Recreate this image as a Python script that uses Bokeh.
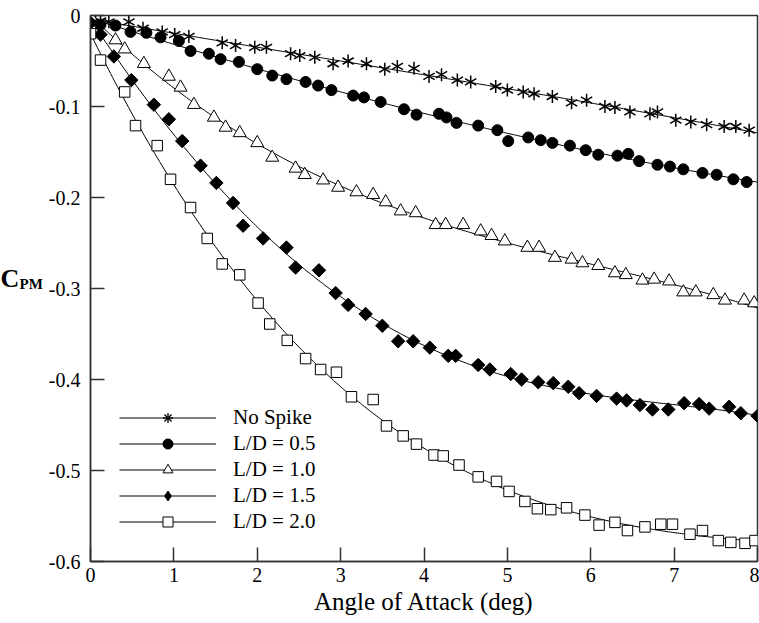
import numpy as np
from bokeh.plotting import figure
from bokeh.layouts import row
from bokeh.models import Legend, LegendItem, FixedTicker, Range1d
from bokeh.core.properties import value
from bokeh.embed import file_html
from bokeh.resources import INLINE

# ---------------- data ----------------
aoa_no_spike = [0.0, 0.12, 0.22, 0.46, 0.63, 0.86, 1.01, 1.18, 1.58, 1.74, 1.97, 2.11, 2.40, 2.51,
                2.69, 2.91, 3.09, 3.31, 3.53, 3.68, 3.88, 4.06, 4.21, 4.40, 4.56, 4.86, 5.00, 5.19,
                5.32, 5.54, 5.77, 5.95, 6.17, 6.29, 6.47, 6.71, 6.80, 7.02, 7.20, 7.39, 7.60, 7.74, 7.90]
cpm_no_spike = [-0.004, -0.006, -0.007, -0.007, -0.014, -0.018, -0.021, -0.023, -0.030, -0.033,
                -0.035, -0.035, -0.042, -0.044, -0.046, -0.053, -0.050, -0.053, -0.059, -0.056,
                -0.058, -0.067, -0.065, -0.071, -0.073, -0.078, -0.082, -0.084, -0.086, -0.089,
                -0.096, -0.093, -0.100, -0.101, -0.106, -0.108, -0.106, -0.115, -0.117, -0.120,
                -0.122, -0.122, -0.126]

aoa_ld05 = [0.0, 0.12, 0.30, 0.48, 0.67, 0.84, 1.06, 1.20, 1.42, 1.56, 1.78, 2.00, 2.18, 2.35, 2.58,
            2.73, 2.89, 3.15, 3.28, 3.48, 3.76, 3.91, 4.18, 4.27, 4.39, 4.65, 4.88, 5.01, 5.25, 5.40,
            5.54, 5.75, 5.94, 6.09, 6.32, 6.45, 6.58, 6.80, 6.95, 7.11, 7.34, 7.51, 7.71, 7.87]
cpm_ld05 = [-0.006, -0.010, -0.011, -0.018, -0.019, -0.024, -0.028, -0.039, -0.042, -0.048, -0.051,
            -0.059, -0.066, -0.070, -0.073, -0.077, -0.082, -0.088, -0.090, -0.095, -0.103, -0.109,
            -0.108, -0.112, -0.118, -0.121, -0.126, -0.138, -0.134, -0.137, -0.140, -0.143, -0.148,
            -0.153, -0.154, -0.152, -0.160, -0.164, -0.166, -0.169, -0.173, -0.175, -0.180, -0.183]

aoa_ld10 = [0.0, 0.30, 0.41, 0.64, 0.94, 1.08, 1.24, 1.48, 1.62, 1.79, 2.00, 2.18, 2.46, 2.57, 2.79,
            2.97, 3.19, 3.39, 3.54, 3.72, 3.90, 4.14, 4.26, 4.47, 4.68, 4.81, 4.97, 5.24, 5.38, 5.57,
            5.77, 5.90, 6.09, 6.29, 6.42, 6.62, 6.76, 6.94, 7.11, 7.26, 7.47, 7.61, 7.84, 7.96]
cpm_ld10 = [-0.001, -0.027, -0.037, -0.053, -0.067, -0.079, -0.098, -0.112, -0.123, -0.129, -0.140,
            -0.156, -0.168, -0.175, -0.181, -0.189, -0.194, -0.197, -0.205, -0.215, -0.217, -0.230,
            -0.230, -0.230, -0.237, -0.242, -0.248, -0.255, -0.255, -0.266, -0.268, -0.272, -0.275,
            -0.283, -0.285, -0.291, -0.290, -0.292, -0.304, -0.304, -0.307, -0.313, -0.313, -0.316]

aoa_ld15 = [0.0, 0.12, 0.28, 0.49, 0.76, 0.94, 1.10, 1.32, 1.51, 1.71, 1.83, 2.07, 2.35, 2.46, 2.74,
            2.94, 3.09, 3.30, 3.50, 3.69, 3.87, 4.07, 4.29, 4.38, 4.65, 4.79, 5.04, 5.17, 5.37, 5.55,
            5.73, 5.86, 6.07, 6.31, 6.43, 6.59, 6.74, 6.93, 7.12, 7.30, 7.42, 7.66, 7.80, 8.00]
cpm_ld15 = [-0.008, -0.021, -0.045, -0.071, -0.098, -0.114, -0.138, -0.165, -0.184, -0.206, -0.231,
            -0.245, -0.255, -0.277, -0.280, -0.305, -0.318, -0.328, -0.341, -0.358, -0.358, -0.365,
            -0.374, -0.374, -0.384, -0.389, -0.394, -0.400, -0.403, -0.404, -0.408, -0.415, -0.418,
            -0.421, -0.423, -0.428, -0.433, -0.433, -0.426, -0.427, -0.432, -0.430, -0.437, -0.440]

aoa_ld20 = [0.0, 0.12, 0.41, 0.54, 0.80, 0.96, 1.20, 1.40, 1.58, 1.79, 2.01, 2.15, 2.36, 2.58, 2.76,
            2.95, 3.13, 3.39, 3.55, 3.75, 3.91, 4.12, 4.23, 4.42, 4.65, 4.87, 5.02, 5.21, 5.36, 5.52,
            5.71, 5.93, 6.10, 6.29, 6.44, 6.65, 6.84, 6.98, 7.19, 7.34, 7.53, 7.68, 7.85, 7.97]
cpm_ld20 = [-0.020, -0.049, -0.084, -0.121, -0.143, -0.180, -0.211, -0.245, -0.273, -0.285, -0.316,
            -0.339, -0.357, -0.377, -0.389, -0.392, -0.419, -0.422, -0.451, -0.462, -0.471, -0.483,
            -0.484, -0.494, -0.507, -0.512, -0.523, -0.534, -0.542, -0.543, -0.541, -0.549, -0.560,
            -0.557, -0.566, -0.562, -0.559, -0.559, -0.570, -0.566, -0.577, -0.579, -0.580, -0.577]

series_names = ["No Spike", "L/D = 0.5", "L/D = 1.0", "L/D = 1.5", "L/D = 2.0"]
fit_degree = [3, 3, 3, 4, 4]

x_ticks = [0, 1, 2, 3, 4, 5, 6, 7, 8]
y_ticks = [0, -0.1, -0.2, -0.3, -0.4, -0.5, -0.6]
y_tick_labels = ["0", "-0.1", "-0.2", "-0.3", "-0.4", "-0.5", "-0.6"]
x_title = "Angle of Attack (deg)"
y_title_main = "C"
y_title_sub = "PM"

SERIF = "Liberation Serif"
H = 623

# ---------------- left strip holding the y title (C with subscript PM) ----------------
LW = 44
pl = figure(width=LW, height=H, title=None, output_backend="svg", toolbar_location=None,
            x_range=Range1d(0, LW), y_range=Range1d(0, H), min_border=0,
            x_axis_location=None, y_axis_location=None)
pl.outline_line_color = None
pl.grid.visible = False
pl.text(x=[0], y=[H - 300], text=[y_title_main],
        text_font=value(SERIF), text_font_style="bold", text_font_size=value("26px"),
        text_align="left", text_baseline="alphabetic", text_color="black")
pl.text(x=[19], y=[H - 306], text=[y_title_sub],
        text_font=value(SERIF), text_font_style="bold", text_font_size=value("15px"),
        text_align="left", text_baseline="alphabetic", text_color="black")

# ---------------- main figure ----------------
p = figure(width=759 - LW, height=H, title=None, output_backend="svg", toolbar_location=None,
           x_range=Range1d(0, 8), y_range=Range1d(-0.6, 0),
           min_border_left=90 - LW, min_border_right=2, min_border_top=15, min_border_bottom=62)
p.grid.visible = False
p.outline_line_color = "#333333"
p.outline_line_width = 1.5

for ax in (p.xaxis[0], p.yaxis[0]):
    ax.axis_line_color = "#333333"
    ax.axis_line_width = 1.5
    ax.major_tick_line_color = "#333333"
    ax.major_tick_line_width = 1.5
    ax.major_tick_in = 14
    ax.major_tick_out = 0
    ax.minor_tick_line_color = None
    ax.major_label_text_font = SERIF
    ax.major_label_text_font_size = "20px"
    ax.major_label_text_color = "black"

p.xaxis.ticker = FixedTicker(ticks=x_ticks)
p.yaxis.ticker = FixedTicker(ticks=y_ticks)
p.yaxis.major_label_overrides = {v: s for v, s in zip(y_ticks, y_tick_labels)}
p.xaxis.major_label_standoff = 6
p.yaxis.major_label_standoff = 10
p.xaxis.axis_label = x_title
p.xaxis.axis_label_text_font = SERIF
p.xaxis.axis_label_text_font_style = "normal"
p.xaxis.axis_label_text_font_size = "25px"
p.xaxis.axis_label_text_color = "black"
p.xaxis.axis_label_standoff = 3

xs_all = [aoa_no_spike, aoa_ld05, aoa_ld10, aoa_ld15, aoa_ld20]
ys_all = [cpm_no_spike, cpm_ld05, cpm_ld10, cpm_ld15, cpm_ld20]

# fitted curves (least-squares polynomial of the read data)
lines = []
xfit = np.linspace(0, 8, 300)
for xs, ys, deg in zip(xs_all, ys_all, fit_degree):
    coef = np.polyfit(xs, ys, deg)
    lines.append(p.line(xfit, np.polyval(coef, xfit), line_color="black", line_width=1))

# No Spike: six-armed asterisk built from three rotated dashes
for a in (90, 30, 150):
    p.scatter(aoa_no_spike, cpm_no_spike, marker="dash", angle=a, angle_units="deg", size=13,
              line_color="black", line_width=1.5)
leg_ast = p.scatter(aoa_no_spike, cpm_no_spike, marker="asterisk", size=0, line_color="black",
                    line_width=1.3)

r_circ = p.scatter(aoa_ld05, cpm_ld05, marker="circle", size=11, fill_color="black",
                   line_color="black")
r_tri = p.scatter(aoa_ld10, cpm_ld10, marker="triangle", size=13, fill_color="white",
                  line_color="black", line_width=1)
p.scatter(aoa_ld15, cpm_ld15, marker="square", angle=45, angle_units="deg", size=9.5,
          fill_color="black", line_color="black")
leg_dia = p.scatter(aoa_ld15, cpm_ld15, marker="diamond", size=0, fill_color="black",
                    line_color="black")
r_sq = p.scatter(aoa_ld20, cpm_ld20, marker="square", size=10.5, fill_color="white",
                 line_color="black", line_width=1)

items = [
    LegendItem(label=series_names[0], renderers=[lines[0], leg_ast]),
    LegendItem(label=series_names[1], renderers=[lines[1], r_circ]),
    LegendItem(label=series_names[2], renderers=[lines[2], r_tri]),
    LegendItem(label=series_names[3], renderers=[lines[3], leg_dia]),
    LegendItem(label=series_names[4], renderers=[lines[4], r_sq]),
]
legend = Legend(items=items, location=(29, 27), glyph_width=97, glyph_height=25, label_height=25,
                spacing=1, label_standoff=17, padding=0, margin=0, border_line_color=None,
                background_fill_alpha=0, label_text_font=SERIF, label_text_font_size="21px",
                label_text_color="black")
p.add_layout(legend)

layout = row(pl, p, spacing=0)
open("out.html", "w").write(file_html(layout, INLINE))
